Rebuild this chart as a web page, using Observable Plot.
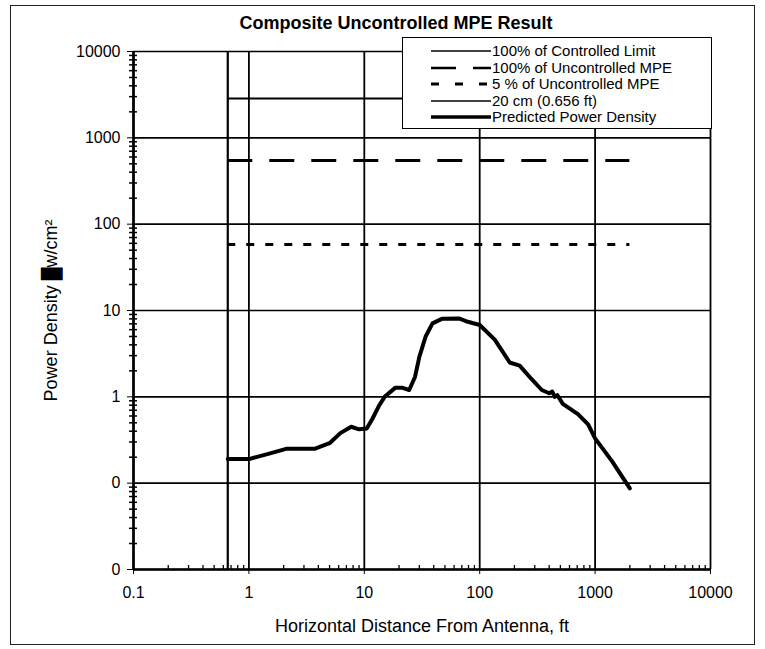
<!DOCTYPE html>
<html>
<head>
<meta charset="utf-8">
<script src="https://cdn.jsdelivr.net/npm/d3@7"></script>
<script src="https://cdn.jsdelivr.net/npm/@observablehq/plot@0.6"></script>
<style>
  html, body { margin: 0; padding: 0; background: #fff; }
  #wrap { position: relative; width: 765px; height: 649px; font-family: "Liberation Sans", Arial, sans-serif; }
  #border { position: absolute; left: 10px; top: 5px; width: 743px; height: 638px; border: 1.5px solid #222; pointer-events: none; }
  #legend { position: absolute; left: 402px; top: 37px; width: 308px; height: 90px; background: #fff; border: 1.5px solid #000; }
  .row { position: absolute; left: 0; height: 16px; width: 100%; }
  .row svg { position: absolute; left: 28px; top: 0; }
  .row span { position: absolute; left: 89px; top: 0; font-size: 15px; line-height: 16px; color: #000; white-space: nowrap; }
</style>
</head>
<body>
<div id="wrap">
  <div id="chart"></div>
  <div id="border"></div>
  <div id="legend"></div>
</div>
<script>
// ---- data ----
const chartTitle = "Composite Uncontrolled MPE Result";
const xLabel = "Horizontal Distance From Antenna, ft";
const yLabel = "Power Density \u2588w/cm\u00B2";

const xTicks = [0.1, 1, 10, 100, 1000, 10000];
const yTicks = [0.01, 0.1, 1, 10, 100, 1000, 10000];

// predicted power density curve
const distanceFt = [0.656, 1, 1.5, 2.1, 3.7, 5.0, 6.2, 7.7, 9.0, 10.5, 11.7, 13.5, 15.0, 18.5, 21.5, 24.5, 27.5, 30, 34, 39, 47, 66, 79, 100, 135, 182, 222, 282, 345, 400, 425, 447, 470, 525, 710, 870, 1000, 1400, 2000];
const powerDensity = [0.19, 0.19, 0.22, 0.25, 0.25, 0.29, 0.38, 0.45, 0.42, 0.43, 0.55, 0.8, 1.0, 1.27, 1.27, 1.2, 1.7, 2.9, 5.0, 7.1, 8.0, 8.1, 7.4, 6.8, 4.6, 2.5, 2.3, 1.6, 1.2, 1.1, 1.15, 1.0, 1.05, 0.83, 0.63, 0.48, 0.33, 0.18, 0.087];

// limit lines
const limitNames = ["100% of Controlled Limit", "100% of Uncontrolled MPE", "5 % of Uncontrolled MPE"];
const limitValues = [2850, 545, 58];
const limitStart = 0.656;
const limitEnd = 2000;

// 20 cm vertical line
const antennaLineName = "20 cm (0.656 ft)";
const antennaLineFt = 0.656;
const curveName = "Predicted Power Density";

// ---- build ----
const curve = distanceFt.map((d, i) => ({x: d, y: powerDensity[i]}));
const limits = limitNames.map((n, i) => ({name: n, y: limitValues[i], x1: limitStart, x2: limitEnd}));

const minor = (decades) => decades.flatMap(d => [2,3,4,5,6,7,8,9].map(m => m * d));
const xMinor = minor(xTicks.slice(0, -1));
const yMinor = minor(yTicks.slice(0, -1));

const W = 765, H = 649, mL = 133, mR = 55, mT = 51, mB = 80;
const pxPerDecX = (W - mL - mR) / Math.log10(xTicks[xTicks.length-1] / xTicks[0]);
const pxPerDecY = (H - mT - mB) / Math.log10(yTicks[yTicks.length-1] / yTicks[0]);
const xMin = xTicks[0], yMin = yTicks[0];

const dashStyles = [null, "25,17", "8,11"];
const widths = [2, 3, 3];

const plot = Plot.plot({
  width: W, height: H,
  marginLeft: mL, marginRight: mR, marginTop: mT, marginBottom: mB,
  style: {fontFamily: "'Liberation Sans', Arial, sans-serif", fontSize: "16px", color: "#000", background: "transparent", overflow: "visible"},
  x: {type: "log", domain: [xTicks[0], xTicks[xTicks.length-1]], ticks: xTicks, tickFormat: d => String(d), tickSize: 5, tickPadding: 12, label: null},
  y: {type: "log", domain: [yTicks[0], yTicks[yTicks.length-1]], ticks: yTicks, tickFormat: d => d >= 1 ? String(d) : "0", tickSize: 6, tickPadding: 7, label: null},
  marks: [
    Plot.ruleY(yTicks, {stroke: "#000", strokeWidth: 1.6}),
    Plot.ruleX(xTicks, {stroke: "#000", strokeWidth: 1.8}),
    // minor ticks on the y axis (crossing) and x axis (inside)
    Plot.ruleY(yMinor, {x1: xMin * Math.pow(10, -4 / pxPerDecX), x2: xMin * Math.pow(10, 4 / pxPerDecX), stroke: "#000", strokeWidth: 1.5}),
    Plot.ruleX(xMinor, {y1: yMin, y2: yMin * Math.pow(10, 4 / pxPerDecY), stroke: "#000", strokeWidth: 1.3}),
    // axis lines
    Plot.ruleX([xTicks[0]], {stroke: "#000", strokeWidth: 2.6}),
    Plot.ruleY([yTicks[0]], {stroke: "#000", strokeWidth: 2.6}),
    // 20 cm line
    Plot.ruleX([antennaLineFt], {stroke: "#000", strokeWidth: 2.2}),
    // limit lines
    ...limits.map((l, i) => Plot.ruleY([l], {y: "y", x1: "x1", x2: "x2", stroke: "#000", strokeWidth: widths[i], strokeDasharray: dashStyles[i]})),
    // predicted curve
    Plot.line(curve, {x: "x", y: "y", stroke: "#000", strokeWidth: 4, strokeLinejoin: "round", strokeLinecap: "round"}),
    // texts
    Plot.text([chartTitle], {text: d => d, frameAnchor: "top", lineAnchor: "middle", textAnchor: "middle", dx: -26, dy: -28, fontWeight: "bold", fontSize: 18, fill: "#000"}),
    Plot.text([xLabel], {text: d => d, frameAnchor: "bottom", lineAnchor: "middle", textAnchor: "middle", dy: 57, fontSize: 18, fill: "#000"}),
    Plot.text([yLabel], {text: d => d, frameAnchor: "left", lineAnchor: "middle", textAnchor: "middle", dx: -82, rotate: -90, fontSize: 18, fill: "#000"})
  ]
});
document.getElementById("chart").append(plot);

// legend
const legendItems = [
  {name: limitNames[0], dash: null, w: 1.5},
  {name: limitNames[1], dash: "25,17", w: 2.5},
  {name: limitNames[2], dash: "8,16", w: 3},
  {name: antennaLineName, dash: null, w: 1.5},
  {name: curveName, dash: null, w: 3.5}
];
const legend = document.getElementById("legend");
legendItems.forEach((it, i) => {
  const row = document.createElement("div");
  row.className = "row";
  row.style.top = (5 + i * 16.5) + "px";
  row.innerHTML = `<svg width="60" height="16"><line x1="0" x2="60" y1="8" y2="8" stroke="#000" stroke-width="${it.w}" ${it.dash ? `stroke-dasharray="${it.dash}"` : ""}/></svg><span>${it.name}</span>`;
  legend.append(row);
});
</script>
</body>
</html>
